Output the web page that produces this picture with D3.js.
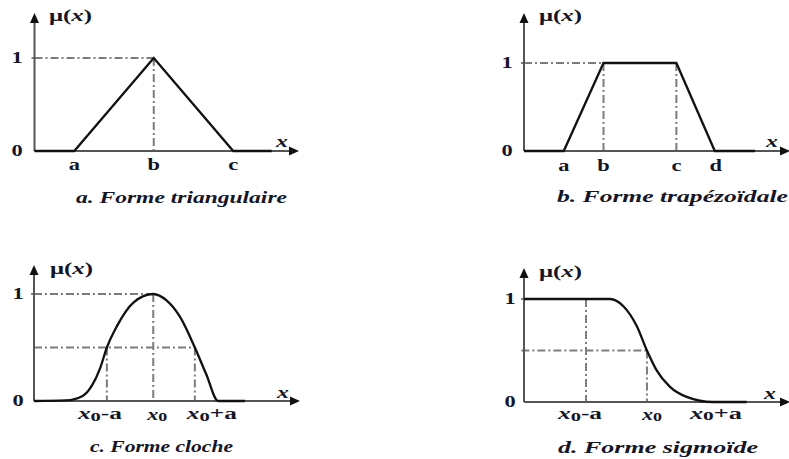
<!DOCTYPE html>
<html>
<head>
<meta charset="utf-8">
<script src="https://cdn.jsdelivr.net/npm/d3@7"></script>
<style>
  body { margin: 0; background: #fff; }
  svg { display: block; }
</style>
</head>
<body>
<svg id="chart" width="789" height="459"></svg>
<script>
// ---- Membership functions (x in abstract units from the μ axis, μ in [0,1]) ----
const triX  = [0, 1.5, 4.5, 7.5, 8.95];
const triMu = [0, 0, 1, 0, 0];

const trapX  = [0, 1.5, 3.0, 5.75, 7.2, 8.72];
const trapMu = [0, 0, 1, 1, 0, 0];

const bellX  = [0, 1.2, 1.85, 2.2, 2.5, 2.75, 3.13, 3.75, 4.5, 5.0, 5.5, 6.07, 6.5, 6.95, 7.96];
const bellMu = [0, 0.005, 0.05, 0.15, 0.31, 0.5, 0.7, 0.92, 1.0, 0.94, 0.79, 0.5, 0.25, 0, 0];

const sigX  = [0, 3.25, 3.75, 4.25, 4.64, 5.0, 5.5, 6.14, 7.13, 8.4];
const sigMu = [1, 1, 0.93, 0.74, 0.5, 0.31, 0.15, 0.05, 0, 0];

// ---- Tick positions and labels on the x axis ----
const triTicks = [1.5, 4.5, 7.5];
const triTickLabels = ["a", "b", "c"];
const trapTicks = [1.5, 3.0, 5.75, 7.2];
const trapTickLabels = ["a", "b", "c", "d"];
const bellTicks = [2.75, 4.5, 6.07];
const bellTickLabels = ["x0-a", "x0", "x0+a"];
const sigTicks = [2.34, 4.64, 7.13];
const sigTickLabels = ["x0-a", "x0", "x0+a"];

// ---- Dash-dot reference lines: [x1, μ1, x2, μ2] ----
const triGuides  = [[0, 1, 4.5, 1], [4.5, 1, 4.5, 0]];
const trapGuides = [[0, 1, 3.0, 1], [3.0, 1, 3.0, 0], [5.75, 1, 5.75, 0]];
const bellGuides = [[0, 1, 4.5, 1], [0, 0.5, 6.07, 0.5], [2.75, 0.5, 2.75, 0], [4.5, 1, 4.5, 0], [6.07, 0.5, 6.07, 0]];
const sigGuides  = [[2.34, 1, 2.34, 0], [-0.1, 0.5, 4.64, 0.5], [4.64, 0.5, 4.64, 0]];

const captions = ["a. Forme triangulaire", "b. Forme trapézoïdale", "c. Forme cloche", "d. Forme sigmoïde"];

// ---- Panel layout ----
const panels = [
  { xs: triX, ys: triMu, smooth: false, ticks: triTicks, tickLabels: triTickLabels, guides: triGuides, caption: captions[0],
    ox: 34.5, base: 151, top: 58, arrowY: 13, xEnd: 299, unit: 26.5,
    numX: 17, muLbl: [49, 92, 16], xLbl: [282, 141], tickY: 165, tickDx: [0, 0, 0], tickW: null,
    cap: [76, 287, 197] },
  { xs: trapX, ys: trapMu, smooth: false, ticks: trapTicks, tickLabels: trapTickLabels, guides: trapGuides, caption: captions[1],
    ox: 524, base: 151, top: 63, arrowY: 13, xEnd: 790, unit: 26.5,
    numX: 507, muLbl: [539, 582, 16], xLbl: [772, 141], tickY: 166, tickDx: [0, 0, 0, 1], tickW: null,
    cap: [557, 788, 197] },
  { xs: bellX, ys: bellMu, smooth: true, ticks: bellTicks, tickLabels: bellTickLabels, guides: bellGuides, caption: captions[2],
    ox: 34, base: 401, top: 294, arrowY: 265, xEnd: 300, unit: 26.5,
    numX: 18, muLbl: [50, 93, 269], xLbl: [283, 392], tickY: 414, tickDx: [-7, 4, 17], tickW: [44, 20, 50],
    cap: [90, 233, 447] },
  { xs: sigX, ys: sigMu, smooth: true, ticks: sigTicks, tickLabels: sigTickLabels, guides: sigGuides, caption: captions[3],
    ox: 524, base: 402, top: 299, arrowY: 268, xEnd: 790, unit: 26.5,
    numX: 510, muLbl: [539, 582, 272], xLbl: [770, 393], tickY: 414, tickDx: [-6, 5, 3], tickW: [44, 20, 52],
    cap: [558, 758, 448] }
];

const svg = d3.select("#chart");
const SERIF = "'Liberation Serif', 'Times New Roman', serif";
const STRETCH = 1.4;
const INK = "#151528";

// Scale a text element horizontally about its anchor point so it spans a given width.
function fitWidth(sel, x, y, width) {
  const w = sel.node().getComputedTextLength();
  const sx = width ? width / w : STRETCH;
  sel.attr("transform", `translate(${x},${y}) scale(${sx},1)`);
}

panels.forEach(p => {
  const g = svg.append("g");
  const x = d3.scaleLinear().domain([0, 1]).range([p.ox, p.ox + p.unit]);
  const y = d3.scaleLinear().domain([0, 1]).range([p.base, p.top]);

  // dash-dot guides
  g.selectAll("line.guide").data(p.guides).join("line")
    .attr("class", "guide")
    .attr("x1", d => x(d[0])).attr("y1", d => y(d[1]))
    .attr("x2", d => x(d[2])).attr("y2", d => y(d[3]))
    .attr("stroke", "#7c7c7c").attr("stroke-width", 2)
    .attr("stroke-dasharray", "8,3,2,3");

  // axes
  const axisColor = "#555";
  g.append("line").attr("x1", p.ox).attr("y1", p.base).attr("x2", p.ox).attr("y2", p.arrowY + 8)
    .attr("stroke", axisColor).attr("stroke-width", 2);
  g.append("line").attr("x1", p.ox).attr("y1", p.base).attr("x2", p.xEnd - 8).attr("y2", p.base)
    .attr("stroke", axisColor).attr("stroke-width", 2);
  g.append("path")
    .attr("d", `M${p.ox},${p.arrowY} L${p.ox - 4.5},${p.arrowY + 10} L${p.ox + 4.5},${p.arrowY + 10} Z`)
    .attr("fill", "#111");
  g.append("path")
    .attr("d", `M${p.xEnd},${p.base} L${p.xEnd - 10},${p.base - 4.5} L${p.xEnd - 10},${p.base + 4.5} Z`)
    .attr("fill", "#111");
  // small tick for μ = 1
  g.append("line").attr("x1", p.ox - 3).attr("x2", p.ox).attr("y1", y(1)).attr("y2", y(1))
    .attr("stroke", axisColor).attr("stroke-width", 1.5);

  // membership curve
  const pts = p.xs.map((v, i) => [v, p.ys[i]]);
  const line = d3.line().x(d => x(d[0])).y(d => y(d[1]))
    .curve(p.smooth ? d3.curveMonotoneX : d3.curveLinear);
  g.append("path").datum(pts).attr("d", line)
    .attr("fill", "none").attr("stroke", "#111").attr("stroke-width", 2.3)
    .attr("stroke-linejoin", "miter");

  // "0" and "1" on the μ axis
  [[0, "0"], [1, "1"]].forEach(([v, t]) => {
    const tx = g.append("text").text(t)
      .attr("font-family", SERIF).attr("font-weight", "bold").attr("font-size", 16)
      .attr("text-anchor", "middle").attr("dominant-baseline", "central").attr("fill", INK);
    fitWidth(tx, p.numX, y(v), null);
  });

  // μ(x) axis title
  const mu = g.append("text").attr("font-family", SERIF).attr("font-weight", "bold").attr("font-size", 16)
    .attr("text-anchor", "start").attr("dominant-baseline", "central").attr("fill", INK);
  mu.append("tspan").text("μ(");
  mu.append("tspan").attr("font-style", "italic").text("x");
  mu.append("tspan").text(")");
  {
    const w = mu.node().getComputedTextLength();
    mu.attr("transform", `translate(${p.muLbl[0]},${p.muLbl[2]}) scale(${(p.muLbl[1] - p.muLbl[0]) / w},1)`);
  }

  // x axis title
  const xt = g.append("text").text("x").attr("font-family", SERIF).attr("font-weight", "bold")
    .attr("font-style", "italic").attr("font-size", 17)
    .attr("text-anchor", "middle").attr("dominant-baseline", "central").attr("fill", INK);
  fitWidth(xt, p.xLbl[0], p.xLbl[1], null);

  // tick labels
  p.ticks.forEach((tv, i) => {
    const lbl = p.tickLabels[i];
    const t = g.append("text").attr("font-family", SERIF).attr("font-size", 16).attr("font-weight", "bold")
      .attr("text-anchor", "middle").attr("dominant-baseline", "central").attr("fill", INK);
    if (lbl.startsWith("x0")) {
      t.append("tspan").attr("font-style", "italic").text("x");
      t.append("tspan").attr("font-size", 13).attr("dy", 2).text("0");
      if (lbl.length > 2) t.append("tspan").attr("dy", -2).attr("font-size", 16).text(lbl.slice(2));
    } else {
      t.text(lbl);
    }
    fitWidth(t, x(tv) + p.tickDx[i], p.tickY, p.tickW ? p.tickW[i] : null);
  });

  // caption
  const cap = g.append("text").text(p.caption)
    .attr("font-family", SERIF).attr("font-weight", "bold").attr("font-style", "italic").attr("font-size", 16)
    .attr("text-anchor", "start").attr("dominant-baseline", "central").attr("fill", INK);
  {
    const w = cap.node().getComputedTextLength();
    cap.attr("transform", `translate(${p.cap[0]},${p.cap[2]}) scale(${(p.cap[1] - p.cap[0]) / w},1)`);
  }
});
</script>
</body>
</html>
